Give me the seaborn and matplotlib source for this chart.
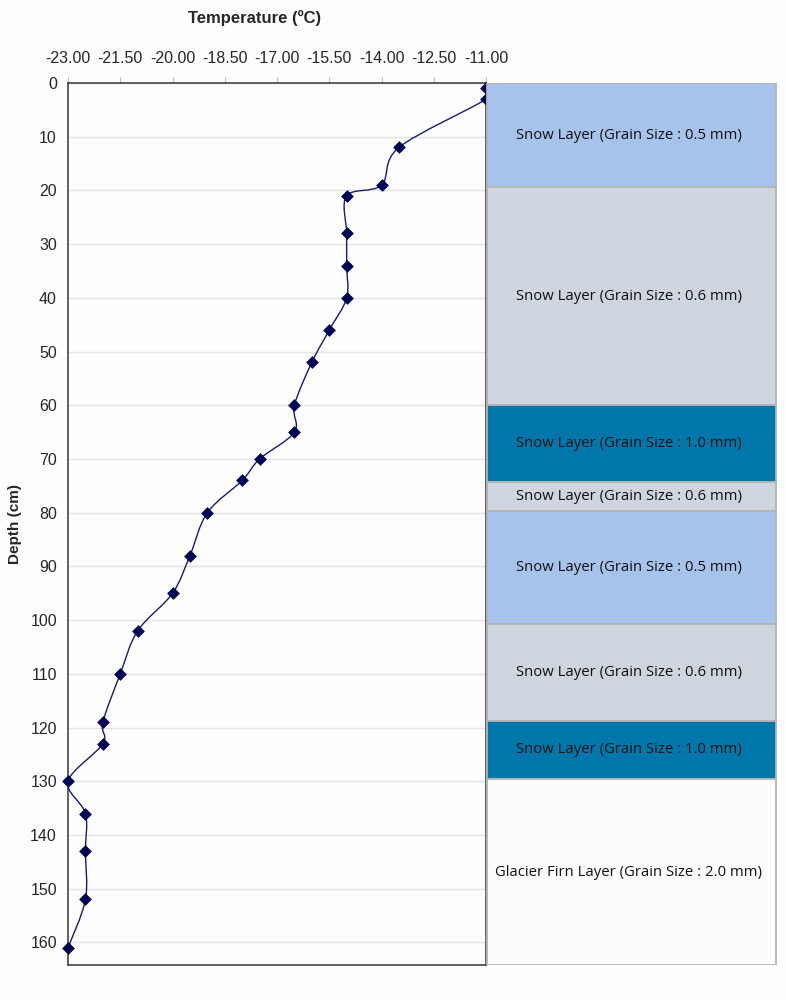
import numpy as np
import pandas as pd
import matplotlib
matplotlib.use("Agg")
import matplotlib.pyplot as plt
from matplotlib.path import Path
from matplotlib.patches import PathPatch
import seaborn as sns

# temperature profile
depth = [1, 3, 12, 19, 21, 28, 34, 40, 46, 52, 60, 65, 70, 74, 80,
         88, 95, 102, 110, 119, 123, 130, 136, 143, 152, 161]
temp = [-11.0, -11.0, -13.5, -14.0, -15.0, -15.0, -15.0, -15.0, -15.5, -16.0, -16.5, -16.5, -17.5, -18.0, -19.0,
        -19.5, -20.0, -21.0, -21.5, -22.0, -22.0, -23.0, -22.5, -22.5, -22.5, -23.0]

# snow pit layers
layer_top = [0, 19.4, 60, 74.2, 79.7, 100.7, 118.7, 129.6]
layer_bottom = [19.4, 60, 74.2, 79.7, 100.7, 118.7, 129.6, 164.2]
layer_names = ["Snow Layer (Grain Size : 0.5 mm)",
               "Snow Layer (Grain Size : 0.6 mm)",
               "Snow Layer (Grain Size : 1.0 mm)",
               "Snow Layer (Grain Size : 0.6 mm)",
               "Snow Layer (Grain Size : 0.5 mm)",
               "Snow Layer (Grain Size : 0.6 mm)",
               "Snow Layer (Grain Size : 1.0 mm)",
               "Glacier Firn Layer (Grain Size : 2.0 mm)"]
layer_colors = ["#a7c3ec", "#ced5de", "#0077aa", "#ced5de",
                "#a7c3ec", "#ced5de", "#0077aa", "#fcfcfc"]

xticks = [-23.0, -21.5, -20.0, -18.5, -17.0, -15.5, -14.0, -12.5, -11.0]

df = pd.DataFrame({"temp": temp, "depth": depth})

sns.set_style("white")
plt.rcParams['font.family'] = ['Liberation Sans', 'DejaVu Sans']

fig = plt.figure(figsize=(7.86, 10), dpi=100)
fig.patch.set_facecolor("#fdfdfd")
ax = fig.add_axes([68/786, 0.035, (486-68)/786, 0.882])
ax2 = fig.add_axes([486/786, 0.035, (777-486)/786, 0.882], sharey=ax)

ax.set_facecolor("#fdfdfd")

# smoothed line, excel style bezier through the points
pts = np.column_stack([temp, depth]).astype(float)
n = len(pts)
verts = [pts[0]]
codes = [Path.MOVETO]
for i in range(n - 1):
    p0 = pts[i - 1] if i > 0 else pts[i]
    p1 = pts[i]
    p2 = pts[i + 1]
    p3 = pts[i + 2] if i + 2 < n else pts[i + 1]
    c1 = p1 + (p2 - p0) / 6.0
    c2 = p2 - (p3 - p1) / 6.0
    verts += [c1, c2, p2]
    codes += [Path.CURVE4] * 3
ax.add_patch(PathPatch(Path(verts, codes), facecolor="none",
                       edgecolor="#1a1a6e", lw=1.0, zorder=3))

sns.scatterplot(data=df, x="temp", y="depth", ax=ax, marker="D", s=36,
                color="#000055", edgecolor="#000055", zorder=4, clip_on=False)

ax.set_xlim(-23, -11)
ax.set_ylim(164.2, 0)
ax.set_yticks(np.arange(0, 161, 10))
ax.set_xticks(xticks)
ax.set_xticklabels(["%.2f" % t for t in xticks])
ax.xaxis.tick_top()
ax.tick_params(axis="x", top=True, bottom=False, length=4, width=0.8,
               color="#bbbbbb", labelsize=11.5, pad=8)
ax.tick_params(axis="y", left=False, length=0, labelsize=11.5, pad=8)
ax.grid(axis="y", color="#e3e3e3", lw=1)
ax.set_axisbelow(True)
for s in ax.spines.values():
    s.set_color("#444444")
    s.set_linewidth(1.2)
ax.set_xlabel("")
ax.set_ylabel("Depth (cm)", fontsize=11, fontweight="bold", labelpad=6)
fig.text(255/786, 0.982, "Temperature (ºC)", ha="center", va="center",
         fontsize=12, fontweight="bold")

# layer column
for top, bot, name, col in zip(layer_top, layer_bottom, layer_names, layer_colors):
    ax2.bar(0.5, bot - top, bottom=top, width=0.99, color=col,
            edgecolor="#b4b4b4", linewidth=1.3)
    ax2.text(0.49, (top + bot) / 2, name, ha="center", va="center",
             fontsize=10.7, family=["Open Sans", "DejaVu Sans"], color="#111111")
ax2.set_xlim(0, 1)
ax2.axis("off")

fig.savefig("out.png", dpi=100, facecolor=fig.get_facecolor())
